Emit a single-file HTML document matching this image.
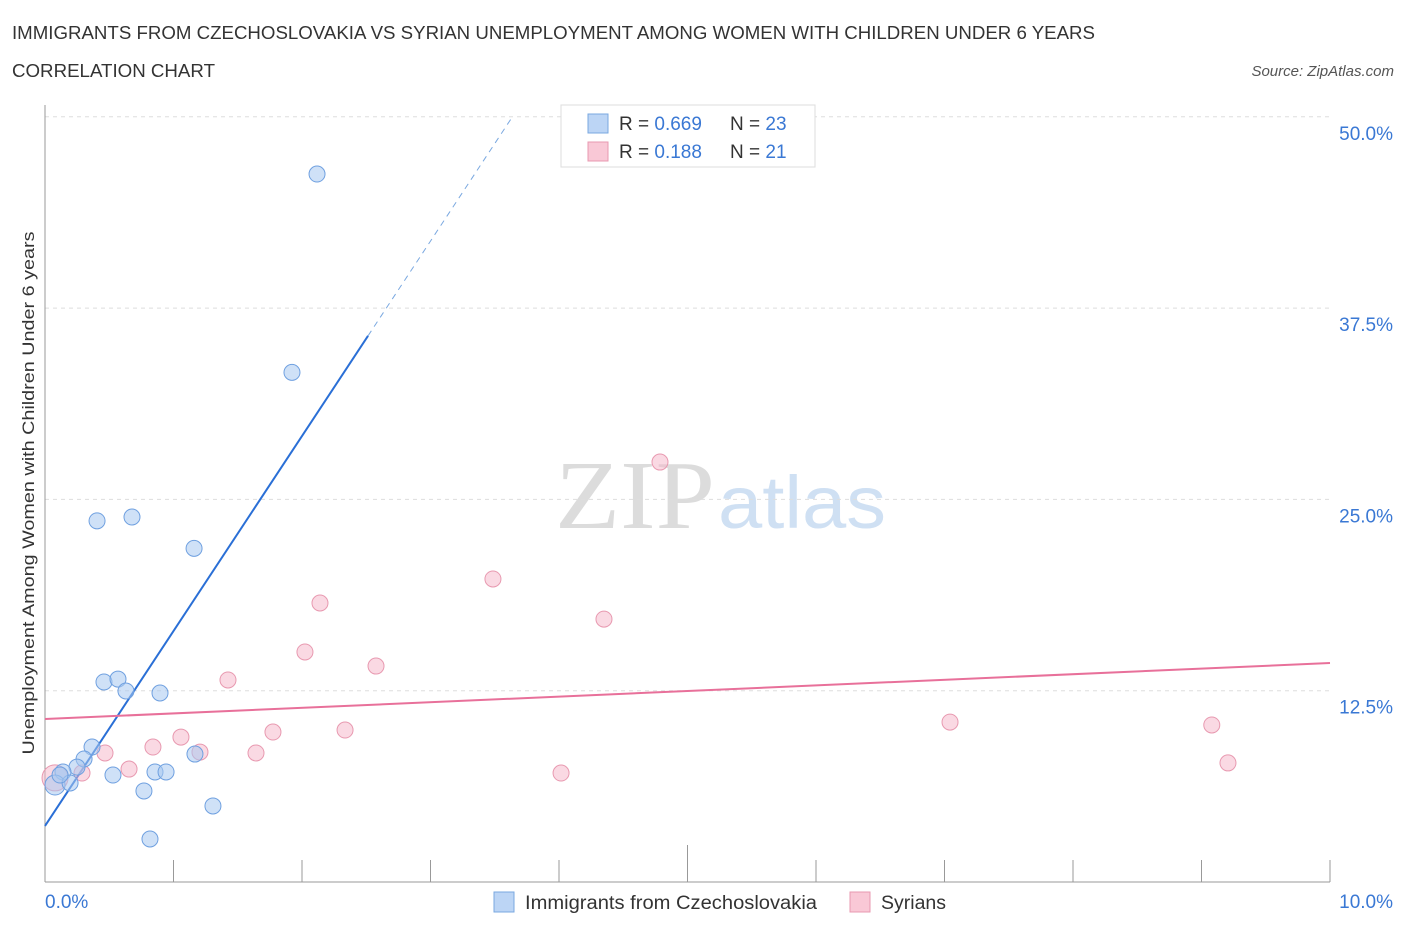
<!DOCTYPE html>
<html><head><meta charset="utf-8"><style>
body{margin:0;background:#fff;font-family:"Liberation Sans",sans-serif;}
#wrap{position:relative;width:1406px;height:930px;overflow:hidden;}
</style></head><body>
<div id="wrap">
<svg id="svg" width="1406" height="930" xmlns="http://www.w3.org/2000/svg">
<text x="12" y="39" font-size="18" fill="#333" textLength="1083" lengthAdjust="spacingAndGlyphs">IMMIGRANTS FROM CZECHOSLOVAKIA VS SYRIAN UNEMPLOYMENT AMONG WOMEN WITH CHILDREN UNDER 6 YEARS</text>
<text x="12" y="77" font-size="18" fill="#333" textLength="203" lengthAdjust="spacingAndGlyphs">CORRELATION CHART</text>
<text x="1394" y="76" font-size="15" fill="#555" font-style="italic" text-anchor="end">Source: ZipAtlas.com</text>
<text x="555" y="528" font-size="98" fill="#dcdcdc" font-family="Liberation Serif, serif" textLength="160" lengthAdjust="spacingAndGlyphs">ZIP</text>
<text x="718" y="528" font-size="74" fill="#cfe0f3" textLength="168" lengthAdjust="spacingAndGlyphs">atlas</text>
<g id="grid"></g>
<g id="axes"></g>
<g id="lines"></g>
<g id="pts"></g>
<text x="34" y="493" font-size="17" fill="#333" text-anchor="middle" textLength="523" lengthAdjust="spacingAndGlyphs" transform="rotate(-90 34 493)">Unemployment Among Women with Children Under 6 years</text>
<g>
<rect x="561" y="105" width="254" height="62" fill="#fff" stroke="#ddd"/>
<rect x="588" y="114" width="20" height="19" fill="#bcd5f5" stroke="#7aa8e0"/>
<rect x="588" y="142" width="20" height="19" fill="#f9c8d6" stroke="#e899b0"/>
<text x="619" y="130" font-size="19" fill="#333">R = <tspan fill="#3a78d4">0.669</tspan></text>
<text x="730" y="130" font-size="19" fill="#333">N = <tspan fill="#3a78d4">23</tspan></text>
<text x="619" y="158" font-size="19" fill="#333">R = <tspan fill="#3a78d4"> 0.188</tspan></text>
<text x="730" y="158" font-size="19" fill="#333">N = <tspan fill="#3a78d4"> 21</tspan></text>
</g>
<g>
<rect x="494" y="892" width="20" height="20" fill="#bcd5f5" stroke="#7aa8e0"/>
<text x="525" y="909" font-size="19" fill="#333" textLength="292" lengthAdjust="spacingAndGlyphs">Immigrants from Czechoslovakia</text>
<rect x="850" y="892" width="20" height="20" fill="#f9c8d6" stroke="#e899b0"/>
<text x="881" y="909" font-size="19" fill="#333" textLength="65" lengthAdjust="spacingAndGlyphs">Syrians</text>
</g>
</svg>
</div>
<script>
const blueX=[2.117,1.922,0.405,0.677,1.16,0.459,0.568,0.630,0.895,0.366,0.304,0.249,0.14,0.078,0.195,0.529,0.856,0.942,1.167,0.770,1.307,0.817,0.117];
const blueY=[46.26,33.3,23.6,23.85,21.8,13.07,13.26,12.48,12.35,8.82,8.04,7.51,7.19,6.34,6.47,6.99,7.19,7.19,8.36,5.95,4.97,2.81,6.99];
const pinkX=[0.078,0.288,0.467,0.654,0.84,1.058,1.206,1.424,1.642,1.774,2.023,2.14,2.335,2.576,3.486,4.016,4.35,4.786,7.043,9.08,9.206];
const pinkY=[6.8,7.12,8.43,7.38,8.82,9.47,8.49,13.2,8.43,9.8,15.03,18.23,9.93,14.11,19.8,7.12,17.18,27.44,10.45,10.26,7.78];
const yTicks=[12.5,25,37.5,50];
const yTickLabels=["12.5%","25.0%","37.5%","50.0%"];
const xTicks=[0,1,2,3,4,5,6,7,8,9,10];
const blueFit=[3.66,12.74];
const pinkFit=[10.65,0.366];
const NS="http://www.w3.org/2000/svg";
const X=v=>45+v*128.5, Y=v=>882-v*15.304;
function mk(p,t,a){const e=document.createElementNS(NS,t);for(const k in a)e.setAttribute(k,a[k]);document.getElementById(p).appendChild(e);return e;}
yTicks.forEach((t,i)=>{
 const g=mk('grid','line',{x1:45,x2:1330,y1:Y(t),y2:Y(t),stroke:'#ddd','stroke-dasharray':'4,4'});
 
 
 const l=mk('grid','text',{x:1393,y:Y(t)+23,'font-size':19,fill:'#3a78d4','text-anchor':'end'});
 l.textContent=yTickLabels[i];
 
 
});
const ax=mk('axes','line',{x1:45,x2:1330,y1:882,y2:882,stroke:'#999'});


const ay=mk('axes','line',{x1:45,x2:45,y1:105,y2:882,stroke:'#999'});


xTicks.forEach(t=>{
 const tk=mk('axes','line',{x1:X(t),x2:X(t),y1:t==5?845:860,y2:882,stroke:'#999'});
 
 
});
const x0=mk('axes','text',{x:45,y:908,'font-size':19,fill:'#3a78d4'});x0.textContent='0.0%';


const x1=mk('axes','text',{x:1393,y:908,'font-size':19,fill:'#3a78d4','text-anchor':'end'});x1.textContent='10.0%';


const bEnd=2.514, bTop=(50-blueFit[0])/blueFit[1];
const bl=mk('lines','line',{x1:X(0),y1:Y(blueFit[0]),x2:X(bEnd),y2:Y(blueFit[0]+blueFit[1]*bEnd),stroke:'#2a6fd6','stroke-width':2});


const bd=mk('lines','line',{x1:X(bEnd),y1:Y(blueFit[0]+blueFit[1]*bEnd),x2:X(bTop),y2:Y(50),stroke:'#7aa8e0','stroke-width':1,'stroke-dasharray':'6,5'});


const pl=mk('lines','line',{x1:X(0),y1:Y(pinkFit[0]),x2:X(10),y2:Y(pinkFit[0]+pinkFit[1]*10),stroke:'#e8709a','stroke-width':2});


pinkX.forEach((v,i)=>{
 const c=mk('pts','circle',{cx:X(v),cy:Y(pinkY[i]),r:i==0?13:8,fill:'rgba(245,180,200,0.5)',stroke:'#e899b0','stroke-width':1});
 
 
});
blueX.forEach((v,i)=>{
 const c=mk('pts','circle',{cx:X(v),cy:Y(blueY[i]),r:i==13?10:8,fill:'rgba(168,200,240,0.55)',stroke:'#6fa0e0','stroke-width':1});
 
 
});
</script>
</body></html>
